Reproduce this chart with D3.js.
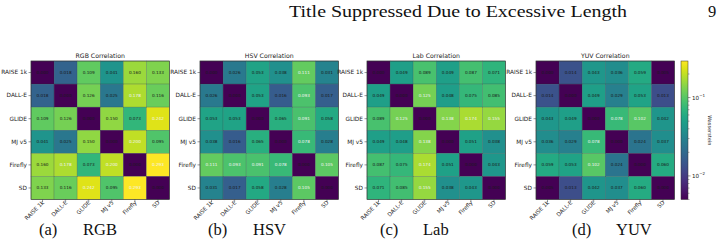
<!DOCTYPE html>
<html><head><meta charset="utf-8">
<script src="https://cdn.jsdelivr.net/npm/d3@7"></script>
<style>body{margin:0;background:#fff}svg{display:block}</style>
</head><body>
<svg id="c" width="717" height="244"></svg>
<script>
const models = ["RAISE 1k","DALL-E","GLIDE","MJ v5","Firefly","SD"];
const spaces = ["RGB","HSV","Lab","YUV"];
const letters = ["(a)","(b)","(c)","(d)"];
const rgbValues = [
 [0.000,0.018,0.109,0.041,0.160,0.133],
 [0.018,0.000,0.126,0.025,0.178,0.116],
 [0.109,0.126,0.000,0.150,0.073,0.242],
 [0.041,0.025,0.150,0.000,0.200,0.095],
 [0.160,0.178,0.073,0.200,0.000,0.293],
 [0.133,0.116,0.242,0.095,0.293,0.000]];
const hsvValues = [
 [0.000,0.026,0.053,0.038,0.111,0.031],
 [0.026,0.000,0.053,0.016,0.093,0.017],
 [0.053,0.053,0.000,0.065,0.091,0.058],
 [0.038,0.016,0.065,0.000,0.078,0.028],
 [0.111,0.093,0.091,0.078,0.000,0.105],
 [0.031,0.017,0.058,0.028,0.105,0.000]];
const labValues = [
 [0.000,0.049,0.089,0.049,0.087,0.071],
 [0.049,0.000,0.125,0.048,0.075,0.085],
 [0.089,0.125,0.000,0.138,0.174,0.155],
 [0.049,0.048,0.138,0.000,0.051,0.038],
 [0.087,0.075,0.174,0.051,0.000,0.043],
 [0.071,0.085,0.155,0.038,0.043,0.000]];
const yuvValues = [
 [0.000,0.014,0.043,0.036,0.059,0.005],
 [0.014,0.000,0.049,0.029,0.053,0.013],
 [0.043,0.049,0.000,0.078,0.102,0.042],
 [0.036,0.029,0.078,0.000,0.024,0.037],
 [0.059,0.053,0.102,0.024,0.000,0.060],
 [0.005,0.013,0.042,0.037,0.060,0.000]];
const matrices = [rgbValues, hsvValues, labValues, yuvValues];
const cbTicks = [0.01, 0.1];
const cbTickLabels = [["10","−2"],["10","−1"]];
const headerTitle = "Title Suppressed Due to Excessive Length";
const pageNumber = "9";
const cbLabel = "Wasserstein";

const svg = d3.select("#c");
const sans = "DejaVu Sans";
const serif = "Liberation Serif";

const vmin = 0.005, vmax = 0.293;
const norm = d3.scaleLog().domain([vmin, vmax]).range([0,1]).clamp(true);
const color = v => d3.interpolateViridis(norm(Math.max(v, vmin)));

// header
svg.append("text").attr("x",289).attr("y",17).attr("font-family",serif).attr("font-size",16.5)
  .attr("textLength",338).attr("lengthAdjust","spacingAndGlyphs").attr("fill","#111").text(headerTitle);
svg.append("text").attr("x",708).attr("y",17).attr("font-family",serif).attr("font-size",16.5)
  .attr("fill","#111").text(pageNumber);

const panelX = [31, 200, 367, 536];
const topY = 61, size = 138.5;
const captionLetterX = [39, 208, 380, 572];
const captionNameX = [83, 253, 423, 616];

matrices.forEach((m, k) => {
  const g = svg.append("g").attr("transform", `translate(${panelX[k]},${topY})`);
  const x = d3.scaleBand().domain(models).range([0,size]);
  const y = d3.scaleBand().domain(models).range([0,size]);
  const mx = d3.max(m.flat());
  const cells = [];
  m.forEach((row,i)=>row.forEach((v,j)=>cells.push({i,j,v})));
  g.selectAll("rect.cell").data(cells).join("rect").attr("class","cell")
    .attr("x",d=>x(models[d.j])).attr("y",d=>y(models[d.i]))
    .attr("width",x.bandwidth()).attr("height",y.bandwidth())
    .attr("fill",d=>color(d.v)).attr("stroke","rgba(40,60,60,0.45)").attr("stroke-width",0.5);
  g.selectAll("text.val").data(cells).join("text").attr("class","val")
    .attr("x",d=>x(models[d.j])+x.bandwidth()/2).attr("y",d=>y(models[d.i])+y.bandwidth()/2)
    .attr("text-anchor","middle").attr("dominant-baseline","central")
    .attr("font-family",sans).attr("font-size",4.2)
    .attr("fill",d=> d.v > 0.6*mx ? "#f4f4f4" : "#1a1a1a")
    .text(d=>d.v.toFixed(3));
  g.append("rect").attr("width",size).attr("height",size).attr("fill","none")
    .attr("stroke","#333").attr("stroke-width",0.6);
  // y axis
  const ya = g.append("g").call(d3.axisLeft(y).tickSize(2.5).tickPadding(1.5));
  ya.select(".domain").remove();
  ya.selectAll("line").attr("stroke","#333").attr("stroke-width",0.5);
  ya.selectAll("text").attr("font-family",sans).attr("font-size",5.8).attr("fill","#222");
  // x axis
  const xa = g.append("g").attr("transform",`translate(0,${size})`).call(d3.axisBottom(x).tickSize(2.5).tickPadding(1.5));
  xa.select(".domain").remove();
  xa.selectAll("line").attr("stroke","#333").attr("stroke-width",0.5);
  xa.selectAll("text").attr("font-family",sans).attr("font-size",5.6).attr("fill","#222")
    .attr("text-anchor","end").attr("dy",0).attr("y",4)
    .attr("transform","rotate(-45)").attr("x",-1);
  // title
  g.append("text").attr("x",size/2).attr("y",-3).attr("text-anchor","middle")
    .attr("font-family",sans).attr("font-size",6.2).attr("fill","#222").text(spaces[k]+" Correlation");
  // caption
  svg.append("text").attr("x",captionLetterX[k]).attr("y",235).attr("font-family",serif)
    .attr("font-size",16.5).attr("fill","#111").text(letters[k]);
  svg.append("text").attr("x",captionNameX[k]).attr("y",235).attr("font-family",serif)
    .attr("font-size",16.5).attr("fill","#111").text(spaces[k]);
});

// colorbar
const cbX = 681, cbW = 7;
const cbScale = d3.scaleLog().domain([vmin, vmax]).range([topY+size, topY]);
const defs = svg.append("defs");
const grad = defs.append("linearGradient").attr("id","vg").attr("x1",0).attr("y1",1).attr("x2",0).attr("y2",0);
d3.range(0,1.0001,0.05).forEach(t=>grad.append("stop").attr("offset",t).attr("stop-color",d3.interpolateViridis(t)));
svg.append("rect").attr("x",cbX).attr("y",topY).attr("width",cbW).attr("height",size)
  .attr("fill","url(#vg)").attr("stroke","#333").attr("stroke-width",0.5);
const minor = [];
[0.001,0.01,0.1].forEach(d=>{for(let k=2;k<10;k++){const v=d*k; if(v>=vmin&&v<=vmax) minor.push(v);}});
svg.selectAll("line.minor").data(minor).join("line").attr("class","minor")
  .attr("x1",cbX+cbW).attr("x2",cbX+cbW+1.5).attr("y1",d=>cbScale(d)).attr("y2",d=>cbScale(d))
  .attr("stroke","#333").attr("stroke-width",0.4);
svg.selectAll("line.major").data(cbTicks).join("line").attr("class","major")
  .attr("x1",cbX+cbW).attr("x2",cbX+cbW+2.5).attr("y1",d=>cbScale(d)).attr("y2",d=>cbScale(d))
  .attr("stroke","#333").attr("stroke-width",0.5);
cbTicks.forEach((v,i)=>{
  const t = svg.append("text").attr("x",cbX+cbW+4).attr("y",cbScale(v)+2).attr("font-family",sans)
    .attr("font-size",5.6).attr("fill","#222");
  t.append("tspan").text(cbTickLabels[i][0]);
  t.append("tspan").attr("dy",-2.5).attr("font-size",4).text(cbTickLabels[i][1]);
});
svg.append("text").attr("transform",`translate(708,${topY+size/2}) rotate(90)`).attr("text-anchor","middle")
  .attr("font-family",sans).attr("font-size",5).attr("fill","#222").text(cbLabel);
</script>
</body></html>
